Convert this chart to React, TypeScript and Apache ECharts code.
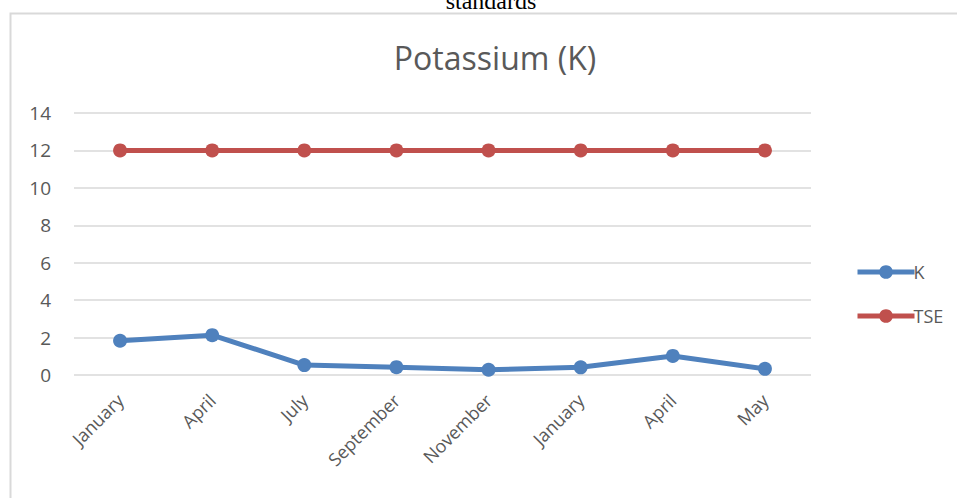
import React, { useEffect, useRef } from "react";
import * as echarts from "echarts";

const categories = ["January", "April", "July", "September", "November", "January", "April", "May"];
const kValues = [1.83, 2.13, 0.53, 0.42, 0.28, 0.41, 1.02, 0.33];
const tseValues = [12, 12, 12, 12, 12, 12, 12, 12];
const yTicks = { min: 0, max: 14, interval: 2 };

const BLUE = "#4f81bd";
const RED = "#c0504d";
const TEXT = "#595959";
const FONT = "'Open Sans', 'Noto Sans', sans-serif";

export default function App() {
  const ref = useRef<HTMLDivElement>(null);
  useEffect(() => {
    if (!ref.current) return;
    const chart = echarts.init(ref.current, null, { renderer: "svg" });
    chart.setOption({
      animation: false,
      backgroundColor: "#ffffff",
      graphic: [
        {
          type: "rect",
          shape: { x: 10.5, y: 13.5, width: 1000, height: 1000 },
          style: { fill: "none", stroke: "#d9d9d9", lineWidth: 2 },
          silent: true,
        },
        {
          type: "text",
          x: 491,
          y: 13,
          style: {
            text: "standards",
            font: "24px 'Liberation Serif', 'Times New Roman', serif",
            fill: "#000000",
            textAlign: "center",
            textVerticalAlign: "bottom",
          },
        },
      ],
      title: {
        text: "Potassium (K)",
        left: 490,
        top: 36,
        textAlign: "center",
        textStyle: { fontFamily: FONT, fontSize: 32, fontWeight: "normal", color: TEXT },
      },
      legend: {
        orient: "vertical",
        left: 850,
        top: 258,
        itemWidth: 57,
        itemHeight: 17,
        itemGap: 26,
        lineStyle: { width: 5 },
        textStyle: { fontFamily: FONT, fontSize: 18, color: TEXT, padding: [0, 0, 0, -6] },
        data: ["K", "TSE"],
      },
      grid: { left: 74, right: 146, top: 113, bottom: 123 },
      xAxis: {
        type: "category",
        data: categories,
        boundaryGap: true,
        axisLine: { show: false },
        axisTick: { show: false },
        axisLabel: {
          rotate: 45,
          interval: 0,
          margin: 22,
          fontFamily: FONT,
          fontSize: 18,
          color: TEXT,
        },
      },
      yAxis: {
        type: "value",
        min: yTicks.min,
        max: yTicks.max,
        interval: yTicks.interval,
        axisLine: { show: false },
        axisTick: { show: false },
        splitLine: { lineStyle: { color: "#d9d9d9", width: 1.5 } },
        axisLabel: { fontFamily: FONT, fontSize: 19, color: TEXT, margin: 23 },
      },
      series: [
        {
          name: "K",
          type: "line",
          data: kValues,
          symbol: "circle",
          symbolSize: 14,
          lineStyle: { color: BLUE, width: 5 },
          itemStyle: { color: BLUE },
        },
        {
          name: "TSE",
          type: "line",
          data: tseValues,
          symbol: "circle",
          symbolSize: 14,
          lineStyle: { color: RED, width: 5 },
          itemStyle: { color: RED },
        },
      ],
    });
    return () => chart.dispose();
  }, []);
  return (
    <div
      ref={ref}
      style={{ position: "fixed", left: 0, top: 0, width: 957, height: 498, background: "#fff" }}
    />
  );
}
